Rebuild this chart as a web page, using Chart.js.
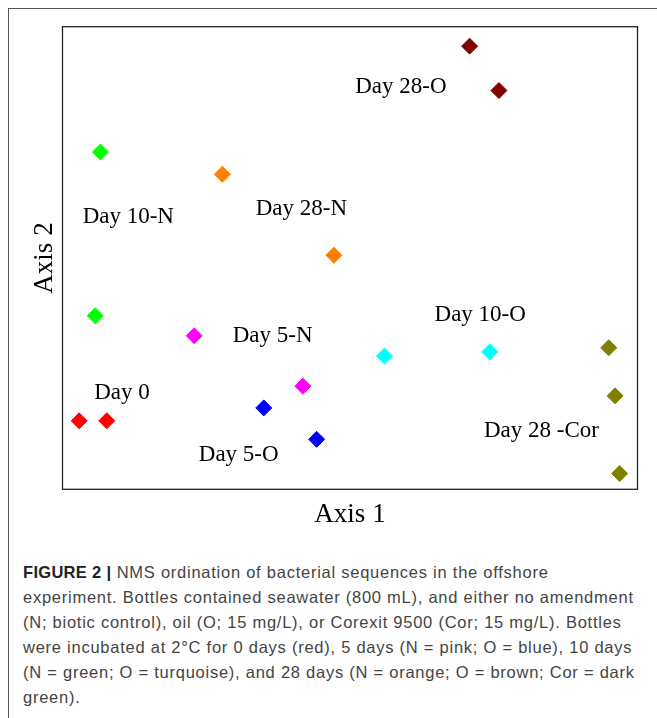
<!DOCTYPE html>
<html>
<head>
<meta charset="utf-8">
<script src="https://cdn.jsdelivr.net/npm/chart.js@4/dist/chart.umd.min.js"></script>
<style>
  html, body { margin: 0; padding: 0; background: #fff; }
  body { width: 657px; height: 718px; position: relative; overflow: hidden; }
  #frame { position: absolute; left: 8px; top: 8px; right: -2px; bottom: -2px;
           border-top: 1px solid #555; border-left: 1px solid #555; }
  #wrap { position: absolute; left: 0; top: 0; width: 657px; height: 545px; }
  #caption { position: absolute; left: 23px; top: 560px; width: 634px;
             font-family: "Liberation Sans", Arial, sans-serif; font-size: 16.5px;
             letter-spacing: 0.75px;
             line-height: 25px; color: #444; white-space: nowrap; }
  #caption b { color: #222; letter-spacing: 0.3px; }
</style>
</head>
<body>
<div id="frame"></div>
<div id="wrap"><canvas id="c" width="657" height="545"></canvas></div>
<div id="caption"><b>FIGURE 2 |</b> NMS ordination of bacterial sequences in the offshore<br>experiment. Bottles contained seawater (800 mL), and either no amendment<br>(N; biotic control), oil (O; 15 mg/L), or Corexit 9500 (Cor; 15 mg/L). Bottles<br>were incubated at 2°C for 0 days (red), 5 days (N = pink; O = blue), 10 days<br>(N = green; O = turquoise), and 28 days (N = orange; O = brown; Cor = dark<br>green).</div>
<script>
// ---- data (NMS scores, arbitrary units) ----
const groups = ["Day 0", "Day 5-N", "Day 5-O", "Day 10-N", "Day 10-O", "Day 28-N", "Day 28-O", "Day 28-Cor"];
const groupColors = ["#ff0000", "#ff00ff", "#0000ff", "#00ff00", "#00ffff", "#ff8000", "#800000", "#808000"];
const day0X = [2.9, 7.7];        const day0Y = [14.8, 14.8];
const day5NX = [22.9, 41.8];     const day5NY = [33.2, 22.3];
const day5OX = [35.0, 44.2];     const day5OY = [17.6, 10.8];
const day10NX = [6.6, 5.7];      const day10NY = [72.9, 37.5];
const day10OX = [56.0, 74.3];    const day10OY = [28.8, 29.7];
const day28NX = [27.8, 47.2];    const day28NY = [68.1, 50.6];
const day28OX = [70.8, 75.9];    const day28OY = [95.8, 86.2];
const day28CorX = [95.0, 96.1, 96.9]; const day28CorY = [30.6, 20.2, 3.4];

// in-plot text labels (anchor = left end of baseline, in axis units)
const labelTexts = ["Day 28-O", "Day 10-N", "Day 28-N", "Day 5-N", "Day 10-O", "Day 0", "Day 5-O", "Day 28 -Cor"];
const labelX = [50.9, 3.5, 33.6, 29.6, 64.7, 5.5, 23.7, 73.3];
const labelY = [85.7, 57.5, 59.3, 31.8, 36.4, 19.6, 6.1, 11.2];

const axisXTitle = "Axis 1";
const axisYTitle = "Axis 2";

const xs = [day0X, day5NX, day5OX, day10NX, day10OX, day28NX, day28OX, day28CorX];
const ys = [day0Y, day5NY, day5OY, day10NY, day10OY, day28NY, day28OY, day28CorY];

const datasets = groups.map((g, i) => ({
  label: g,
  data: xs[i].map((x, j) => ({ x: x, y: ys[i][j] })),
  backgroundColor: groupColors[i],
  borderColor: groupColors[i],
  borderWidth: 1,
  pointStyle: 'rectRot',
  pointRadius: 8,
  pointHoverRadius: 8
}));

const boxAndLabels = {
  id: 'boxAndLabels',
  afterDatasetsDraw(chart) {
    const { ctx, chartArea: a, scales } = chart;
    ctx.save();
    ctx.strokeStyle = '#222';
    ctx.lineWidth = 1.3;
    ctx.strokeRect(a.left, a.top, a.right - a.left, a.bottom - a.top);
    ctx.fillStyle = '#000';
    ctx.font = '23px "Liberation Serif", "Times New Roman", serif';
    ctx.textBaseline = 'alphabetic';
    ctx.textAlign = 'left';
    labelTexts.forEach((t, i) => {
      ctx.fillText(t, scales.x.getPixelForValue(labelX[i]), scales.y.getPixelForValue(labelY[i]));
    });
    ctx.restore();
  }
};

const titleFont = { family: '"Liberation Serif", "Times New Roman", serif', size: 27, lineHeight: 1.2 };

new Chart(document.getElementById('c'), {
  type: 'scatter',
  data: { datasets },
  options: {
    responsive: false,
    devicePixelRatio: 1,
    animation: false,
    events: [],
    layout: { padding: { left: 28.3, top: 26.7, right: 19.5, bottom: 13.8 } },
    plugins: { legend: { display: false }, tooltip: { enabled: false } },
    scales: {
      x: {
        type: 'linear', min: 0, max: 100,
        ticks: { display: false },
        grid: { display: false, drawTicks: false, tickLength: 0 },
        border: { display: false },
        title: { display: true, text: axisXTitle, color: '#000', font: titleFont, padding: { top: 9.5, bottom: 0 } }
      },
      y: {
        type: 'linear', min: 0, max: 100,
        ticks: { display: false },
        grid: { display: false, drawTicks: false, tickLength: 0 },
        border: { display: false },
        title: { display: true, text: axisYTitle, color: '#000', font: titleFont, padding: { top: 0, bottom: 1.8 } }
      }
    }
  },
  plugins: [boxAndLabels]
});
</script>
</body>
</html>
